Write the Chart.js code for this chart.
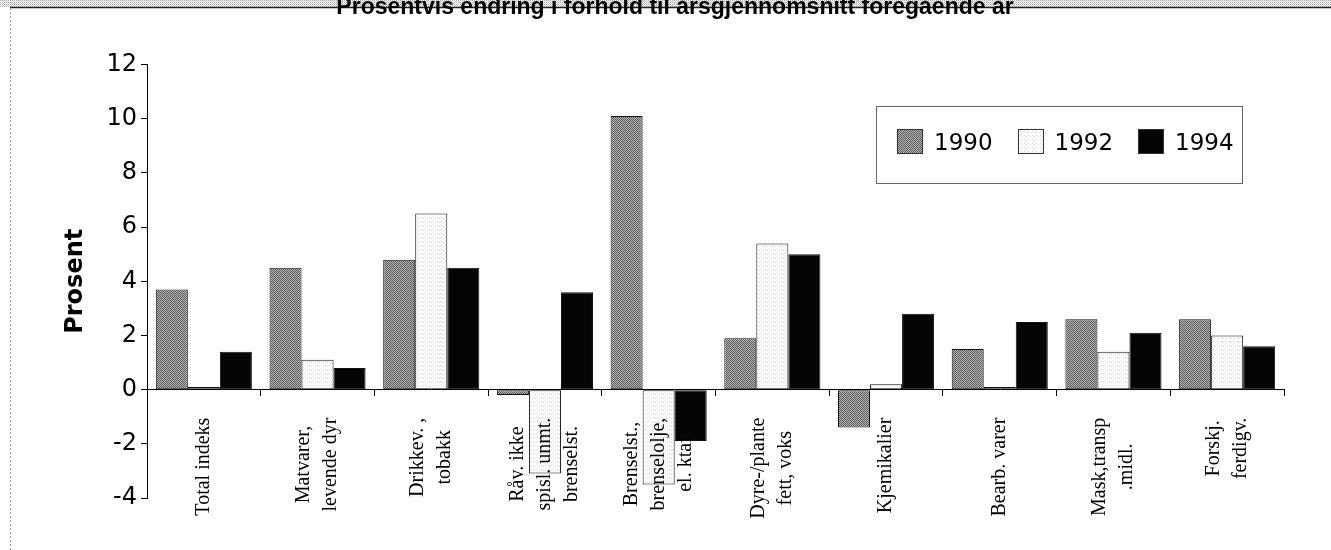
<!DOCTYPE html>
<html>
<head>
<meta charset="utf-8">
<script src="https://cdn.jsdelivr.net/npm/chart.js@4.4.0/dist/chart.umd.min.js"></script>
<style>
  body { margin: 0; background: #fff; }
  #wrap { position: relative; width: 1331px; height: 550px; }
  #legend {
    position: absolute; left: 876px; top: 106px; width: 345px; height: 54px;
    padding: 22px 0 0 20px; border: 1px solid #666;
    font-family: "DejaVu Sans", sans-serif; font-size: 23px; color: #000;
    display: flex; align-items: flex-start;
  }
  #legend .item { display: flex; align-items: center; margin-right: 25px; height: 25px; }
  #legend .sw { width: 24px; height: 23px; border: 1px solid #333; margin-right: 11px; }
</style>
</head>
<body>
<div id="wrap">
  <canvas id="chart"></canvas>
  <div id="legend"></div>
</div>
<script>
const categories = [
  ["Total indeks"],
  ["Matvarer,", "levende dyr"],
  ["Drikkev. ,", "tobakk"],
  ["Råv. ikke", "spisl. unmt.", "brenselst."],
  ["Brenselst.,", "brenselolje,", "el. ktaf"],
  ["Dyre-/plante", "fett, voks"],
  ["Kjemikalier"],
  ["Bearb. varer"],
  ["Mask,transp", ".midl."],
  ["Forskj.", "ferdigv."]
];
const years = ["1990", "1992", "1994"];
const v1990 = [3.7, 4.5, 4.8, -0.2, 10.1, 1.9, -1.4, 1.5, 2.6, 2.6];
const v1992 = [0.1, 1.1, 6.5, -3.1, -3.5, 5.4, 0.2, 0.1, 1.4, 2.0];
const v1994 = [1.4, 0.8, 4.5, 3.6, -1.9, 5.0, 2.8, 2.5, 2.1, 1.6];
const yTicks = [-4, -2, 0, 2, 4, 6, 8, 10, 12];

function makePattern(size, base, dots) {
  const c = document.createElement('canvas');
  c.width = size; c.height = size;
  const g = c.getContext('2d');
  g.fillStyle = base; g.fillRect(0, 0, size, size);
  dots.forEach(d => { g.fillStyle = d[2]; g.fillRect(d[0], d[1], 1, 1); });
  return c;
}
const tex1990 = makePattern(2, '#b4b4b4', [[0, 0, '#5c5c5c'], [1, 1, '#5c5c5c']]);
const tex1992 = makePattern(4, '#fbfbfb', [[1, 1, '#d6d6d6'], [3, 2, '#e2e2e2']]);
const texBand = makePattern(2, '#ffffff', [[0, 0, '#a8a8a8'], [1, 1, '#c8c8c8']]);

const ctx = document.getElementById('chart');
const c2d = ctx.getContext('2d');
const fills = [c2d.createPattern(tex1990, 'repeat'), c2d.createPattern(tex1992, 'repeat'), '#050505'];
const swatches = ['url(' + tex1990.toDataURL() + ')', 'url(' + tex1992.toDataURL() + ')', '#050505'];

const framePlugin = {
  id: 'frame',
  beforeDraw(chart) {
    const g = chart.ctx;
    g.save();
    g.fillStyle = g.createPattern(texBand, 'repeat');
    g.fillRect(0, 0, chart.width, 7);
    g.strokeStyle = '#222';
    g.lineWidth = 1.5;
    g.beginPath(); g.moveTo(10, 7.5); g.lineTo(chart.width, 7.5); g.stroke();
    g.strokeStyle = '#999';
    g.lineWidth = 1;
    g.setLineDash([2, 2]);
    g.beginPath(); g.moveTo(10.5, 8); g.lineTo(10.5, chart.height); g.stroke();
    g.restore();
  }
};

const catLabelPlugin = {
  id: 'catLabels',
  afterDatasetsDraw(chart) {
    const xs = chart.scales.x, ys = chart.scales.y, g = chart.ctx;
    const top = ys.getPixelForValue(0) + 28;
    g.save();
    g.font = '20px "Liberation Serif"';
    g.fillStyle = '#000';
    g.textAlign = 'center';
    g.textBaseline = 'middle';
    categories.forEach((lines, i) => {
      const px = xs.getPixelForValue(i);
      const w = Math.max(...lines.map(l => g.measureText(l).width));
      lines.forEach((line, k) => {
        g.save();
        g.translate(px + (k - (lines.length - 1) / 2) * 27, top + w / 2);
        g.rotate(-Math.PI / 2);
        g.fillText(line, 0, 0);
        g.restore();
      });
    });
    g.restore();
  }
};

const chart = new Chart(ctx, {
  type: 'bar',
  data: {
    labels: categories,
    datasets: [v1990, v1992, v1994].map((vals, i) => ({
      label: years[i],
      data: vals,
      backgroundColor: fills[i],
      borderColor: '#111',
      borderWidth: 1,
      borderSkipped: false,
      categoryPercentage: 0.845,
      barPercentage: 1.0
    }))
  },
  options: {
    responsive: true,
    maintainAspectRatio: false,
    animation: false,
    layout: { padding: { left: 66, right: 47, top: 0, bottom: 52 } },
    plugins: {
      legend: { display: false },
      tooltip: { enabled: false },
      title: {
        display: true,
        text: 'Prosentvis endring i forhold til årsgjennomsnitt foregående år',
        color: '#000',
        font: { family: 'Liberation Sans', size: 23, weight: 'bold' },
        padding: { top: -6, bottom: 43 }
      }
    },
    scales: {
      x: {
        position: { y: 0 },
        grid: { offset: true, drawOnChartArea: false, tickLength: 6, color: '#000' },
        border: { color: '#000', width: 1 },
        ticks: { display: false }
      },
      y: {
        min: -4,
        max: 12,
        afterFit: s => { s.width = 81; },
        afterBuildTicks: s => { s.ticks = yTicks.map(v => ({ value: v })); },
        grid: { drawOnChartArea: false, tickLength: 6, color: '#000' },
        border: { color: '#000', width: 1 },
        ticks: {
          color: '#000',
          padding: 4,
          font: { family: 'DejaVu Sans', size: 24 }
        },
        title: {
          display: true,
          text: 'Prosent',
          color: '#000',
          font: { family: 'DejaVu Sans', size: 24, weight: 'bold' },
          padding: { top: -5, bottom: 0 }
        }
      }
    }
  },
  plugins: [framePlugin, catLabelPlugin]
});

const legend = document.getElementById('legend');
chart.data.datasets.forEach((ds, i) => {
  const item = document.createElement('div');
  item.className = 'item';
  const sw = document.createElement('span');
  sw.className = 'sw';
  sw.style.background = swatches[i];
  const txt = document.createElement('span');
  txt.textContent = ds.label;
  item.appendChild(sw);
  item.appendChild(txt);
  legend.appendChild(item);
});
</script>
</body>
</html>
